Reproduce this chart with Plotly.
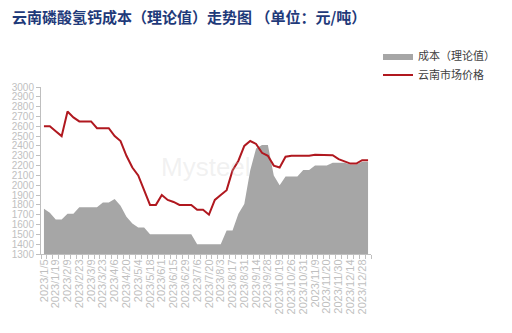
import plotly.graph_objects as go

dates = [
    "2023/1/5", "2023/1/12", "2023/1/19", "2023/2/2", "2023/2/9", "2023/2/16",
    "2023/2/23", "2023/3/2", "2023/3/9", "2023/3/16", "2023/3/23", "2023/3/30",
    "2023/4/6", "2023/4/13", "2023/4/20", "2023/4/27", "2023/5/4", "2023/5/11",
    "2023/5/18", "2023/5/25", "2023/6/1", "2023/6/8", "2023/6/15", "2023/6/21",
    "2023/6/29", "2023/7/3", "2023/7/6", "2023/7/13", "2023/7/20", "2023/7/27",
    "2023/8/3", "2023/8/10", "2023/8/17", "2023/8/24", "2023/8/31", "2023/9/7",
    "2023/9/14", "2023/9/21", "2023/9/28", "2023/10/12", "2023/10/19", "2023/10/24",
    "2023/10/26", "2023/10/30", "2023/10/31", "2023/11/2", "2023/11/9", "2023/11/16",
    "2023/11/20", "2023/11/23", "2023/11/30", "2023/12/7", "2023/12/14", "2023/12/21",
    "2023/12/28", "2024/1/4",
]

cost = [
    1760, 1720, 1650, 1650, 1710, 1710, 1775, 1775, 1775, 1775, 1825, 1825,
    1860, 1790, 1680, 1610, 1570, 1570, 1500, 1500, 1500, 1500, 1500, 1500,
    1500, 1500, 1400, 1400, 1400, 1400, 1400, 1540, 1540, 1710, 1810, 2150,
    2375, 2410, 2410, 2100, 2000, 2090, 2090, 2090, 2155, 2155, 2200, 2200,
    2200, 2230, 2230, 2230, 2210, 2210, 2240, 2240,
]

price = [
    2600, 2600, 2550, 2500, 2750, 2690, 2650, 2650, 2650, 2580, 2580, 2580,
    2500, 2450, 2300, 2180, 2100, 1950, 1800, 1800, 1900, 1850, 1830, 1800,
    1800, 1800, 1750, 1750, 1700, 1850, 1900, 1950, 2150, 2250, 2400, 2450,
    2420, 2330, 2300, 2200, 2180, 2290, 2300, 2300, 2300, 2300, 2310, 2310,
    2310, 2305, 2265, 2240, 2220, 2220, 2255, 2255,
]

tick_text = [d if i % 2 == 0 else "" for i, d in enumerate(dates)]

fig = go.Figure()
fig.add_trace(go.Scatter(
    x=dates, y=cost, name="成本（理论值）", mode="lines", legend="legend",
    line=dict(width=0, color="#A6A6A6"), fill="tozeroy", fillcolor="#A6A6A6",
))
fig.add_trace(go.Scatter(
    x=dates, y=price, name="云南市场价格", mode="lines", legend="legend2",
    line=dict(width=2, color="#B0181F"),
))

fig.add_annotation(
    text="Mysteel", x=0.5, y=0.52, xref="paper", yref="paper",
    showarrow=False, font=dict(size=26, color="rgba(200,200,200,0.25)", family="Liberation Sans"),
)

legend_common = dict(
    xref="container", yref="container", xanchor="left", yanchor="middle",
    font=dict(family="Noto Sans CJK SC", size=11, color="#404040"),
    bgcolor="rgba(0,0,0,0)", borderwidth=0, itemwidth=30,
)

fig.update_layout(
    width=512, height=333,
    margin=dict(l=41, r=7, t=87, b=79),
    paper_bgcolor="white", plot_bgcolor="white",
    title=dict(
        text="<b>云南磷酸氢钙成本（理论值）走势图 （单位：元/吨）</b>",
        x=12 / 512, xanchor="left", y=1 - 18 / 333, yanchor="middle",
        font=dict(family="Noto Sans CJK SC", size=15, color="#1F3A7A"),
    ),
    legend=dict(x=378 / 512, y=1 - 56 / 333, **legend_common),
    legend2=dict(x=378 / 512, y=1 - 75 / 333, **legend_common),
    showlegend=True,
)

fig.update_xaxes(
    type="category", range=[-0.5, len(dates) - 0.5],
    tickvals=dates, ticktext=tick_text, tickson="boundaries",
    ticks="outside", ticklen=4, tickcolor="#BFBFBF",
    showline=True, linecolor="#BFBFBF", linewidth=1,
    showgrid=False, tickangle=-90,
    tickfont=dict(family="Liberation Sans", size=11, color="#BFBFBF"),
)
fig.update_yaxes(
    range=[1300, 3000], dtick=100, tick0=1300,
    ticks="outside", ticklen=4, tickcolor="#BFBFBF",
    showline=True, linecolor="#BFBFBF", linewidth=1,
    showgrid=False, zeroline=False,
    tickfont=dict(family="Liberation Sans", size=10, color="#BFBFBF"),
)

fig.write_html("out.html")
